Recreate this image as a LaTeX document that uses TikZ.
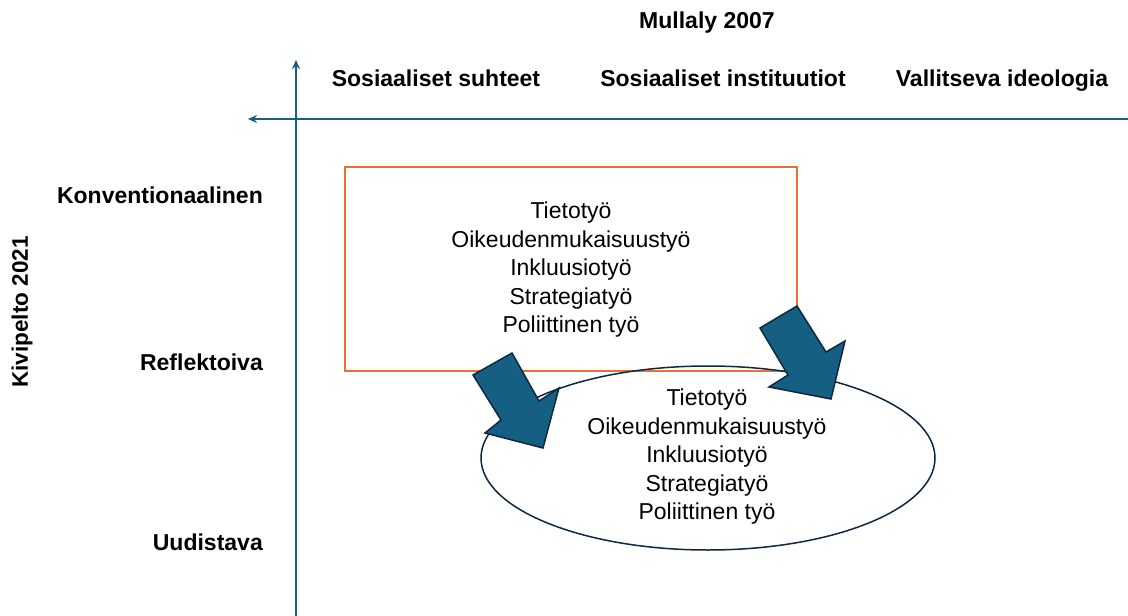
\documentclass[tikz,border=0pt]{standalone}
\usepackage{fontspec}
\setmainfont{Liberation Sans}
\usetikzlibrary{arrows.meta}
\definecolor{axisblue}{HTML}{156082}
\definecolor{arrowfill}{HTML}{156082}
\definecolor{navy}{HTML}{0E2841}
\definecolor{boxorange}{HTML}{E97132}
\tikzset{
  axisline/.style={draw=axisblue, line width=2pt},
  tip/.style={-{Stealth[length=9pt,width=8pt]}},
  hdr/.style={font=\fontsize{23}{26}\selectfont\bfseries, inner sep=0pt, anchor=base},
  rowlbl/.style={font=\fontsize{23}{26}\selectfont\bfseries, inner sep=0pt, anchor=base east},
  body/.style={font=\fontsize{23}{28.5}\selectfont, align=center, inner sep=0pt},
  bigarrow/.style={fill=arrowfill, draw=navy, line width=1.5pt, line join=miter},
}
\begin{document}
\begin{tikzpicture}[x=1pt,y=-1pt]
\useasboundingbox (0,0) rectangle (1128,616);
% axes
\coordinate (vbot) at (296,616);
\coordinate (vtop) at (296,60);
\coordinate (hright) at (1128,119);
\coordinate (hleft) at (248,119);
\draw[axisline, tip] (vbot) -- (vtop);
\draw[axisline, tip] (hright) -- (hleft);
% headers
\node[hdr] (mullaly) at (707,28) {Mullaly 2007};
\node[hdr] (c1) at (436,86) {Sosiaaliset suhteet};
\node[hdr] (c2) at (723,86) {Sosiaaliset instituutiot};
\node[hdr] (c3) at (1002,86) {Vallitseva ideologia};
\node[font=\fontsize{22.5}{26}\selectfont\bfseries, inner sep=0pt, rotate=90] (kivi) at (22,312) {Kivipelto 2021};
\node[rowlbl] (r1) at (263,203) {Konventionaalinen};
\node[rowlbl] (r2) at (263,370) {Reflektoiva};
\node[rowlbl] (r3) at (263,550) {Uudistava};
% box and ellipse
\draw[boxorange, line width=1.5pt] (345,167) rectangle (797,371);
\draw[navy, line width=1.5pt] (708,458) ellipse [x radius=227, y radius=92];
% arrows
\draw[bigarrow] (473,375) -- (512,353) -- (539,401) -- (559,388) -- (543,448) -- (485,433) -- (501,420) -- cycle;
\draw[bigarrow] (760,328) -- (797,306) -- (826,352) -- (845,341) -- (831,399) -- (769,387) -- (788,375) -- cycle;
% texts
\node[body] (boxtext) at (571,270) {Tietotyö\\Oikeudenmukaisuustyö\\Inkluusiotyö\\Strategiatyö\\Poliittinen työ};
\node[body] (elltext) at (707,457) {Tietotyö\\Oikeudenmukaisuustyö\\Inkluusiotyö\\Strategiatyö\\Poliittinen työ};
\end{tikzpicture}
\end{document}
